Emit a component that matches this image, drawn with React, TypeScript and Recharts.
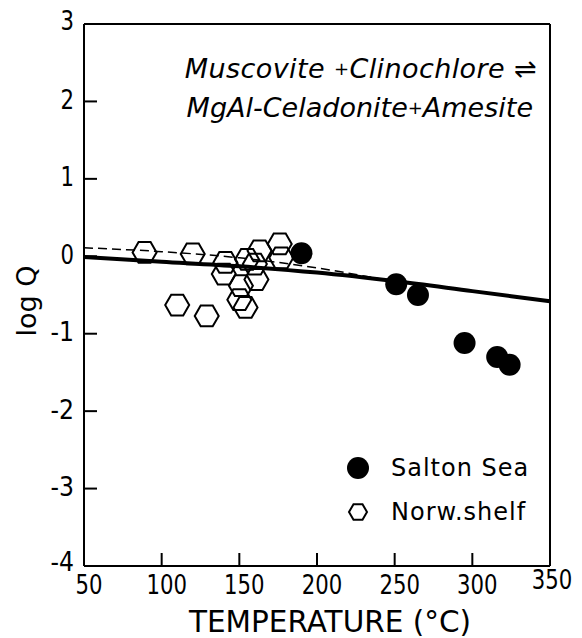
import React from 'react'
import { ComposedChart, Line, Scatter, XAxis, YAxis, Legend } from 'recharts'

const tempTicks = [50, 100, 150, 200, 250, 300, 350]
const logTicks = [-4, -3, -2, -1, 0, 1, 2, 3]

// Salton Sea (filled circles)
const saltonSea = [
  { t: 190, q: 0.04 },
  { t: 251, q: -0.36 },
  { t: 265, q: -0.5 },
  { t: 295, q: -1.12 },
  { t: 316, q: -1.3 },
  { t: 324, q: -1.4 },
]

// Norwegian shelf (open hexagons)
const norwShelf = [
  { t: 89, q: 0.05 },
  { t: 120, q: 0.03 },
  { t: 110, q: -0.63 },
  { t: 129, q: -0.77 },
  { t: 141, q: -0.08 },
  { t: 140, q: -0.23 },
  { t: 151, q: -0.38 },
  { t: 150, q: -0.56 },
  { t: 154, q: -0.66 },
  { t: 155, q: -0.04 },
  { t: 161, q: -0.3 },
  { t: 163, q: 0.07 },
  { t: 160, q: -0.1 },
  { t: 176, q: 0.16 },
  { t: 177, q: -0.02 },
]

const solidCurve = [
  { t: 50, q: -0.01 },
  { t: 100, q: -0.07 },
  { t: 150, q: -0.13 },
  { t: 200, q: -0.21 },
  { t: 250, q: -0.32 },
  { t: 300, q: -0.45 },
  { t: 350, q: -0.58 },
]

const dashedCurve = [
  { t: 50, q: 0.11 },
  { t: 100, q: 0.06 },
  { t: 150, q: -0.02 },
  { t: 200, q: -0.15 },
  { t: 240, q: -0.29 },
]

const legendOrder = ['Salton Sea', 'Norw.shelf']

const FONT = '"DejaVu Sans", sans-serif'
const TICK_LEN = 13

const hexPoints = (cx: number, cy: number, r: number) =>
  [0, 60, 120, 180, 240, 300]
    .map((a) => `${cx + r * Math.cos((a * Math.PI) / 180)},${cy + r * Math.sin((a * Math.PI) / 180)}`)
    .join(' ')

// narrow, tall digits like the original lettering
const numWidth = (s: string) => s.replace('-', '').length * 13.5 + (s.includes('-') ? 10 : 0)

const NumText = ({ x, y, anchor, value }: any) => {
  const s = String(value)
  return (
    <text
      x={x}
      y={y}
      textAnchor={anchor}
      dominantBaseline="middle"
      fontFamily={FONT}
      fontSize={27}
      textLength={numWidth(s)}
      lengthAdjust="spacingAndGlyphs"
      fill="#000"
    >
      {s}
    </text>
  )
}

const Hexagon = (props: any) => {
  const { cx, cy } = props
  if (cx == null || cy == null) return null
  return <polygon points={hexPoints(cx, cy, 12)} fill="none" stroke="#000" strokeWidth={2} />
}

const Dot = (props: any) => {
  const { cx, cy } = props
  if (cx == null || cy == null) return null
  return <circle cx={cx} cy={cy} r={11} fill="#000" />
}

const BottomTick = (props: any) => {
  const { x, y, payload } = props
  const inner = payload.value !== 50 && payload.value !== 350
  const dy = payload.value === 350 ? 15 : 20
  const dx = payload.value === 350 ? 2 : 5
  return (
    <g>
      {inner && <line x1={x} y1={y} x2={x} y2={y - TICK_LEN} stroke="#000" strokeWidth={2} />}
      <NumText x={x + dx} y={y + dy} anchor="middle" value={payload.value} />
    </g>
  )
}

const TopTick = (props: any) => {
  const { x, y, payload } = props
  if (payload.value === 50 || payload.value === 350) return <g />
  return <line x1={x} y1={y} x2={x} y2={y + TICK_LEN} stroke="#000" strokeWidth={2} />
}

const LeftTick = (props: any) => {
  const { x, y, payload } = props
  const inner = payload.value !== 3 && payload.value !== -4
  const dy = payload.value === -4 ? -3 : payload.value === 3 ? -2 : 0
  return (
    <g>
      {inner && <line x1={x} y1={y} x2={x + TICK_LEN} y2={y} stroke="#000" strokeWidth={2} />}
      <NumText x={x - 10} y={y + dy} anchor="end" value={payload.value} />
    </g>
  )
}

const RightTick = (props: any) => {
  const { x, y, payload } = props
  if (payload.value === 3 || payload.value === -4) return <g />
  return <line x1={x} y1={y} x2={x - TICK_LEN} y2={y} stroke="#000" strokeWidth={2} />
}

const renderLegend = (props: any) => {
  const items = legendOrder
    .map((name) => (props.payload || []).find((p: any) => p.value === name))
    .filter(Boolean)
  return (
    <div style={{ fontFamily: FONT, fontSize: 24, letterSpacing: 1, color: '#000' }}>
      {items.map((p: any) => (
        <div key={p.value} style={{ display: 'flex', alignItems: 'center', height: 44 }}>
          <svg width={26} height={26} style={{ marginRight: 20 }}>
            {p.value === 'Salton Sea' ? (
              <circle cx={13} cy={13} r={11} fill="#000" />
            ) : (
              <polygon points={hexPoints(13, 13, 9)} fill="none" stroke="#000" strokeWidth={2} />
            )}
          </svg>
          <span>{p.value}</span>
        </div>
      ))}
    </div>
  )
}

export default function App() {
  return (
    <div style={{ position: 'absolute', left: 0, top: 0, background: '#fff' }}>
      <ComposedChart width={582} height={638} margin={{ top: 0, right: 0, bottom: 0, left: 0 }}>
        <XAxis
          xAxisId="bottom"
          dataKey="t"
          type="number"
          domain={[50, 350]}
          ticks={tempTicks}
          tickSize={0}
          tickMargin={0}
          tickLine={false}
          height={72}
          axisLine={{ stroke: '#000', strokeWidth: 2 }}
          tick={<BottomTick />}
          interval={0}
          label={{
            content: (lp: any) => {
              const vb = lp.viewBox
              return (
                <text x={vb.x + vb.width / 2 + 13} y={vb.y + 57} textAnchor="middle" dominantBaseline="middle" fontFamily={FONT} fontSize={29.5} fill="#000">
                  TEMPERATURE (°C)
                </text>
              )
            },
          }}
        />
        <XAxis
          xAxisId="top"
          orientation="top"
          type="number"
          domain={[50, 350]}
          ticks={tempTicks}
          tickSize={0}
          tickMargin={0}
          tickLine={false}
          height={24}
          axisLine={{ stroke: '#000', strokeWidth: 2 }}
          tick={<TopTick />}
          interval={0}
        />
        <YAxis
          yAxisId="left"
          type="number"
          domain={[-4, 3]}
          ticks={logTicks}
          tickSize={0}
          tickMargin={0}
          tickLine={false}
          width={84}
          axisLine={{ stroke: '#000', strokeWidth: 2 }}
          tick={<LeftTick />}
          interval={0}
          label={{
            content: (lp: any) => {
              const vb = lp.viewBox
              const cx = vb.x + 28
              const cy = vb.y + vb.height / 2 + 6
              return (
                <text x={cx} y={cy} transform={`rotate(-90, ${cx}, ${cy})`} textAnchor="middle" dominantBaseline="middle" fontFamily={FONT} fontSize={27} fill="#000">
                  log Q
                </text>
              )
            },
          }}
        />
        <YAxis
          yAxisId="right"
          orientation="right"
          type="number"
          domain={[-4, 3]}
          ticks={logTicks}
          tickSize={0}
          tickMargin={0}
          tickLine={false}
          width={32}
          axisLine={{ stroke: '#000', strokeWidth: 2 }}
          tick={<RightTick />}
          interval={0}
        />
        <Line
          xAxisId="bottom"
          yAxisId="left"
          data={dashedCurve}
          dataKey="q"
          type="monotone"
          stroke="#000"
          strokeWidth={1.5}
          strokeDasharray="9 5"
          dot={false}
          activeDot={false}
          legendType="none"
          name="dashed"
          isAnimationActive={false}
        />
        <Line
          xAxisId="bottom"
          yAxisId="left"
          data={solidCurve}
          dataKey="q"
          type="monotone"
          stroke="#000"
          strokeWidth={4}
          dot={false}
          activeDot={false}
          legendType="none"
          name="solid"
          isAnimationActive={false}
        />
        <Scatter
          xAxisId="bottom"
          yAxisId="left"
          name="Salton Sea"
          data={saltonSea}
          dataKey="q"
          shape={<Dot />}
          fill="#000"
          isAnimationActive={false}
        />
        <Scatter
          xAxisId="bottom"
          yAxisId="left"
          name="Norw.shelf"
          data={norwShelf}
          dataKey="q"
          shape={<Hexagon />}
          fill="none"
          isAnimationActive={false}
        />
        <Legend
          layout="horizontal"
          verticalAlign="middle"
          align="center"
          content={renderLegend}
          wrapperStyle={{ position: 'absolute', left: 345, top: 446, width: 210, bottom: 'auto', right: 'auto' }}
        />
        <text x={537} y={70} textAnchor="end" dominantBaseline="middle" fontFamily={FONT} fontStyle="italic" fontSize={27} letterSpacing={0.4} fill="#000">
          Muscovite <tspan fontSize={18}>+</tspan>Clinochlore ⇌
        </text>
        <text x={533} y={109} textAnchor="end" dominantBaseline="middle" fontFamily={FONT} fontStyle="italic" fontSize={27} fill="#000">
          MgAl-Celadonite<tspan fontSize={18}>+</tspan>Amesite
        </text>
      </ComposedChart>
    </div>
  )
}
